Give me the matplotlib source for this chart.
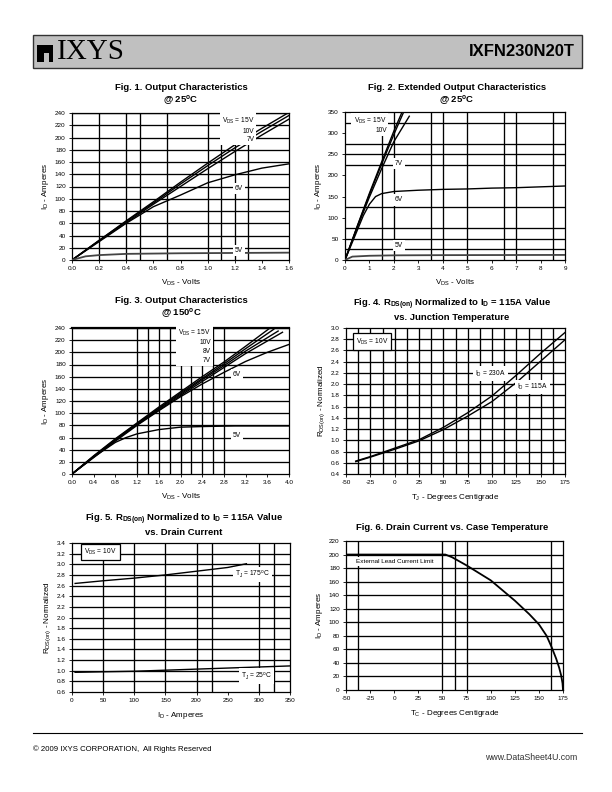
import matplotlib
matplotlib.use('Agg')
import matplotlib.pyplot as plt
from matplotlib.patches import Rectangle

plt.rcParams['font.family'] = ['Liberation Sans', 'DejaVu Sans']
plt.rcParams['mathtext.default'] = 'regular'

# ---- data ----
# Fig 1: output characteristics @ 25C
v1 = [0, 0.2, 0.4, 0.6, 0.8, 1.0, 1.2, 1.4, 1.6]
i1_15v = [0, 32, 64, 95, 127, 158, 188, 215, 241]
i1_10v = [0, 32, 63, 93, 124, 154, 183, 210, 236]
i1_7v = [0, 31, 61, 91, 120, 149, 177, 204, 230]
i1_6v = [0, 30, 60, 87, 106, 126, 139, 150, 157]
v1_5 = [0, 0.1, 0.2, 0.4, 0.8, 1.2, 1.6]
i1_5v = [0, 6, 8, 10, 11, 11.5, 12]

# Fig 2: extended output characteristics @ 25C
v2_15 = [0, 0.5, 1.0, 1.5, 2.0, 2.35]
i2_15v = [0, 80, 158, 232, 305, 352]
v2_10 = [0, 0.5, 1.0, 1.5, 2.0, 2.4]
i2_10v = [0, 79, 155, 227, 297, 350]
v2_7 = [0, 0.5, 1.0, 1.5, 2.0, 2.63]
i2_7v = [0, 77, 149, 216, 280, 340]
v2_6 = [0, 0.5, 0.75, 1.0, 1.25, 1.5, 2, 3, 4, 5, 6, 7, 8, 9]
i2_6v = [0, 70, 105, 132, 150, 157, 162, 165, 167, 168, 170, 171, 173, 175]
v2_5 = [0, 0.3, 1, 2, 4, 9]
i2_5v = [0, 8, 10, 11, 11.5, 12]

# Fig 3: output characteristics @ 150C
v3 = [0, 0.4, 0.8, 1.2, 1.6, 2.0, 2.4, 2.8, 3.2]
i3_15v = [0, 30, 58, 84, 110, 135, 160, 184, 210]
i3_10v = [0, 29, 57, 83, 108, 133, 157, 181, 206]
i3_8v = [0, 29, 56, 82, 107, 131, 155, 178, 202]
i3_7v = [0, 28, 56, 81, 105, 129, 152, 175, 198]
end3_v = [3.65, 3.72, 3.8, 3.88]
end3_i = [240, 238, 235, 233]
v3_6 = [0, 0.4, 0.8, 1.2, 1.6, 2.0, 2.4, 2.8, 3.2, 3.6, 4.0]
i3_6v = [0, 27, 54, 80, 104, 127, 148, 167, 185, 200, 213]
v3_5 = [0, 0.4, 0.8, 1.0, 1.2, 1.6, 2.0, 2.4, 3.0, 4.0]
i3_5v = [0, 28, 52, 60, 66, 73, 77, 78, 79, 79]

# Fig 4: RDS(on) vs junction temperature
tj4 = [-40, -25, 0, 25, 50, 75, 100, 125, 150, 175]
r4_230a = [0.63, 0.71, 0.86, 1.01, 1.23, 1.49, 1.79, 2.16, 2.55, 2.92]
r4_115a = [0.62, 0.70, 0.84, 0.99, 1.19, 1.43, 1.69, 2.03, 2.41, 2.79]

# Fig 5: RDS(on) vs drain current
id5_175 = [5, 50, 100, 150, 200, 250, 280]
r5_175 = [2.64, 2.69, 2.74, 2.80, 2.87, 2.94, 3.01]
id5_25 = [5, 50, 100, 150, 200, 250, 300, 350]
r5_25 = [0.97, 0.98, 0.99, 1.01, 1.03, 1.05, 1.07, 1.09]

# Fig 6: drain current vs case temperature
tc6 = [-50, 53, 60, 75, 100, 125, 140, 150, 158, 163, 168, 171, 173, 174.5, 175]
id6 = [200, 200, 196, 184, 162, 132, 112, 97, 80, 64, 46, 33, 22, 10, 0]

W, H = 612, 792
fig = plt.figure(figsize=(W / 100, H / 100), dpi=100)


def place(l, r, t, b):
    return [l / W, 1 - b / H, (r - l) / W, (b - t) / H]


def setup(rect, xlim, ylim, xticks, yticks, hlines, vlines, xlabel, ylabel, xfmt, yfmt):
    ax = fig.add_axes(place(*rect))
    ax.set_xlim(*xlim)
    ax.set_ylim(*ylim)
    ax.set_xticks(xticks)
    ax.set_yticks(yticks)
    ax.set_xticklabels([xfmt.format(x) for x in xticks])
    ax.set_yticklabels([yfmt.format(y) for y in yticks])
    ax.tick_params(direction='out', length=2.5, width=0.6, labelsize=4.6, pad=2)
    for s in ax.spines.values():
        s.set_linewidth(0.9)
    for h in hlines:
        ax.axhline(h, color='black', lw=0.95, zorder=1)
    for v in vlines:
        ax.axvline(v, color='black', lw=0.95, zorder=1)
    ax.set_xlabel(xlabel, fontsize=5.8, labelpad=5)
    ax.set_ylabel(ylabel, fontsize=5.8, labelpad=3)
    return ax


def lbl(ax, x, y, s, ha='left', size=4.8, box=False):
    if box:
        bb = dict(facecolor='white', edgecolor='black', lw=0.9, pad=2.2)
    else:
        bb = dict(facecolor='white', edgecolor='none', pad=1.5)
    ax.text(x, y, s, ha=ha, va='center', fontsize=size, bbox=bb, zorder=4,
            linespacing=1.35)


def title(x, y, s):
    fig.text(x / W, 1 - y / H, s, ha='center', va='center', fontsize=6.8,
             fontweight='bold', linespacing=1.15)


curve = dict(color='black', lw=1.0, zorder=3)

# ---- Fig 1 ----
ax1 = setup((72, 289, 113, 260), (0, 1.6), (0, 240),
            [0, 0.2, 0.4, 0.6, 0.8, 1.0, 1.2, 1.4, 1.6], range(0, 241, 20),
            range(20, 241, 20), [0.2, 0.4, 0.5, 0.7, 1.0, 1.1, 1.2, 1.3],
            r'V$_{DS}$ - Volts', r'I$_D$ - Amperes', '{:.1f}', '{:d}')
for yy in (i1_15v, i1_10v, i1_7v, i1_6v):
    ax1.plot(v1, yy, **curve)
ax1.plot(v1_5, i1_5v, color='#444444', lw=1.3, zorder=3)
ax1.text(1.345, 213, 'V$_{DS}$ = 15V\n10V\n7V', ha='right', va='center', fontsize=4.8,
         bbox=dict(facecolor='white', edgecolor='none', pad=1.5), zorder=4, linespacing=1.35)
lbl(ax1, 1.2, 117, '6V')
lbl(ax1, 1.2, 15, '5V')
title(181, 95, 'Fig. 1. Output Characteristics\n@ 25$^o$C')

# ---- Fig 2 ----
ax2 = setup((345, 565, 112, 260), (0, 9), (0, 350),
            range(0, 10), range(0, 351, 50),
            [25, 50, 75, 125, 225, 250, 275, 325], [1.5, 2, 3.5, 4, 5, 6.5, 7, 8.5],
            r'V$_{DS}$ - Volts', r'I$_D$ - Amperes', '{:d}', '{:d}')
ax2.plot(v2_15, i2_15v, **curve)
ax2.plot(v2_10, i2_10v, **curve)
ax2.plot(v2_7, i2_7v, **curve)
ax2.plot(v2_6, i2_6v, **curve)
ax2.plot(v2_5, i2_5v, color='#444444', lw=1.3, zorder=3)
lbl(ax2, 0.35, 330, 'V$_{DS}$ = 15V')
lbl(ax2, 1.25, 307, '10V')
lbl(ax2, 2.05, 228, '7V')
lbl(ax2, 2.05, 142, '6V')
lbl(ax2, 2.05, 35, '5V')
title(457, 95, 'Fig. 2. Extended Output Characteristics\n@ 25$^o$C')

# ---- Fig 3 ----
ax3 = setup((72, 289, 328, 474), (0, 4.0), (0, 240),
            [0, 0.4, 0.8, 1.2, 1.6, 2.0, 2.4, 2.8, 3.2, 3.6, 4.0], range(0, 241, 20),
            range(20, 241, 20), [1.2, 1.4, 1.6, 1.8, 2.0, 2.2, 2.4, 2.6, 2.8],
            r'V$_{DS}$ - Volts', r'I$_D$ - Amperes', '{:.1f}', '{:d}')
for k, yy in enumerate((i3_15v, i3_10v, i3_8v, i3_7v)):
    ax3.plot(v3 + [end3_v[k]], yy + [end3_i[k]], **curve)
ax3.plot(v3_6, i3_6v, **curve)
ax3.plot(v3_5, i3_5v, **curve)
ax3.spines['top'].set_linewidth(1.6)
ax3.text(2.56, 211, 'V$_{DS}$ = 15V\n10V\n8V\n7V', ha='right', va='center', fontsize=4.8,
         bbox=dict(facecolor='white', edgecolor='none', pad=1.5), zorder=4, linespacing=1.35)
lbl(ax3, 2.96, 163, '6V')
lbl(ax3, 2.96, 64, '5V')
title(181, 308, 'Fig. 3. Output Characteristics\n@ 150$^o$C')

# ---- Fig 4 ----
ax4 = setup((346, 565, 328, 474), (-50, 175), (0.4, 3.0),
            range(-50, 176, 25), [0.4 + 0.2 * k for k in range(14)],
            [0.6 + 0.2 * k for k in range(12)], [-37.5 + 12.5 * k for k in range(17)],
            r'T$_J$ - Degrees Centigrade', r'R$_{DS(on)}$ - Normalized', '{:d}', '{:.1f}')
ax4.plot(tj4, r4_230a, **curve)
ax4.plot(tj4, r4_115a, **curve)
lbl(ax4, 114, 2.19, 'I$_D$ = 230A', ha='right')
lbl(ax4, 126, 1.95, 'I$_D$ = 115A')
lbl(ax4, -40, 2.76, 'V$_{DS}$ = 10V', box=True)
title(452, 309, 'Fig. 4. R$_{DS(on)}$ Normalized to I$_D$ = 115A Value\nvs. Junction Temperature')

# ---- Fig 5 ----
ax5 = setup((72, 290, 543, 692), (0, 350), (0.6, 3.4),
            range(0, 351, 50), [0.6 + 0.2 * k for k in range(15)],
            [0.8 + 0.2 * k for k in range(13)], [50, 100, 150, 200, 225, 300, 325],
            r'I$_D$ - Amperes', r'R$_{DS(on)}$ - Normalized', '{:d}', '{:.1f}')
ax5.plot(id5_175, r5_175, **curve)
ax5.plot(id5_25, r5_25, **curve)
lbl(ax5, 262, 2.81, 'T$_J$ = 175$^o$C')
lbl(ax5, 272, 0.90, 'T$_J$ = 25$^o$C')
lbl(ax5, 20, 3.23, 'V$_{DS}$ = 10V', box=True)
title(184, 524, 'Fig. 5. R$_{DS(on)}$ Normalized to I$_D$ = 115A Value\nvs. Drain Current')

# ---- Fig 6 ----
ax6 = setup((346, 563, 541, 690), (-50, 175), (0, 220),
            range(-50, 176, 25), range(0, 221, 20),
            range(20, 201, 20), [-37.5, 50, 62.5, 75, 162.5],
            r'T$_C$ - Degrees Centigrade', r'I$_D$ - Amperes', '{:d}', '{:d}')
ax6.plot(tc6, id6, color='black', lw=1.3, zorder=3)
lbl(ax6, -40, 190, 'External Lead Current Limit', size=4.6)
title(452, 528, 'Fig. 6. Drain Current vs. Case Temperature')

# ---- header and footer ----
fig.patches.append(Rectangle((33 / W, 1 - 68 / H), 549 / W, 33 / H, transform=fig.transFigure,
                             facecolor='#c0c0c0', edgecolor='#333333', lw=1.0))
fig.patches.append(Rectangle((37 / W, 1 - 62 / H), 16 / W, 17 / H, transform=fig.transFigure,
                             facecolor='black', edgecolor='none'))
fig.patches.append(Rectangle((44 / W, 1 - 62 / H), 5 / W, 9 / H, transform=fig.transFigure,
                             facecolor='#c0c0c0', edgecolor='none'))
fig.text(57 / W, 1 - 52 / H, 'IXYS', fontsize=21, family='Liberation Serif',
         ha='left', va='center')
fig.text(575 / W, 1 - 52 / H, 'IXFN230N20T', fontsize=12, fontweight='bold',
         ha='right', va='center')
fig.add_artist(plt.Line2D([33 / W, 582 / W], [1 - 733 / H, 1 - 733 / H], color='black', lw=0.8))
fig.text(33 / W, 1 - 749 / H, '\u00a9 2009 IXYS CORPORATION,  All Rights Reserved', fontsize=5.6,
         ha='left', va='center')
fig.text(577 / W, 1 - 757 / H, 'www.DataSheet4U.com', fontsize=6.3, color='#333333',
         ha='right', va='center')

fig.savefig('out.png', dpi=100)
